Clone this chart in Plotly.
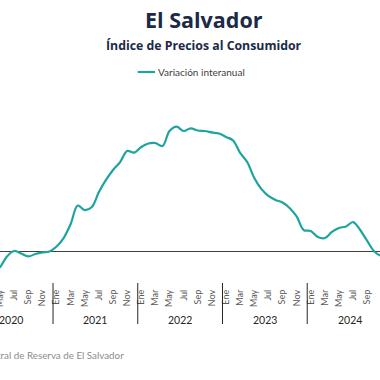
import plotly.graph_objects as go

# ---------------- data ----------------
month_names = ["Ene", "Feb", "Mar", "Abr", "May", "Jun", "Jul", "Ago", "Sep", "Oct", "Nov", "Dic"]
start_year = 2020
start_month = 4  # April 2020
variacion_interanual = [
    -1.30, -1.00, -0.33, 0.00, -0.16, -0.34, -0.19, -0.09, -0.03,           # 2020 Apr-Dec
    0.28, 0.81, 1.69, 2.84, 2.56, 2.75, 3.69, 4.44, 5.06, 5.56, 6.25, 6.15,  # 2021
    6.50, 6.72, 6.75, 6.56, 7.50, 7.77, 7.50, 7.67, 7.53, 7.50, 7.41, 7.34,  # 2022
    7.13, 6.91, 6.13, 5.56, 4.56, 3.88, 3.44, 3.19, 3.03, 2.69, 2.16, 1.31,  # 2023
    1.25, 0.88, 0.81, 1.19, 1.44, 1.53, 1.81, 1.31, 0.63, -0.03, -0.31, -0.40,  # 2024
]
years = [2020, 2021, 2022, 2023, 2024]
title = "El Salvador"
subtitle = "Índice de Precios al Consumidor"
series_name = "Variación interanual"
source = "Fuente: Banco Central de Reserva de El Salvador"

# month index (Jan 2020 = 0)
x_idx = [(start_month - 1) + i for i in range(len(variacion_interanual))]
tickvals = [m for m in x_idx if (m % 12) % 2 == 0]
ticktext = [month_names[m % 12] for m in tickvals]

W, H = 380, 380
PLOT_TOP, PLOT_BOT = 95, 283
FONT = "Century Gothic, Lato, sans-serif"
TFONT = "Century Gothic, Open Sans, sans-serif"
TEAL = "#1fa39e"


def py(p):  # pixel y -> paper y
    return (PLOT_BOT - p) / (PLOT_BOT - PLOT_TOP)


fig = go.Figure()
fig.add_trace(go.Scatter(
    x=x_idx, y=variacion_interanual, mode="lines", name=series_name,
    line=dict(color=TEAL, width=2.2, shape="spline", smoothing=1),
    showlegend=False, hoverinfo="skip",
))

shapes = []
annotations = []
for y in years:
    base = (y - 2020) * 12
    annotations.append(dict(x=base + 5.5, y=py(320), xref="x", yref="paper",
                            xanchor="center", yanchor="middle",
                            text=str(y), showarrow=False,
                            font=dict(family=FONT, size=10.5, color="#262626")))
    shapes.append(dict(type="line", xref="x", yref="paper", x0=base - 0.5, x1=base - 0.5,
                       y0=0, y1=py(324), line=dict(color="#262626", width=1)))
shapes.append(dict(type="line", xref="x", yref="paper", x0=59.5, x1=59.5,
                   y0=0, y1=py(324), line=dict(color="#262626", width=1)))

# legend
shapes.append(dict(type="line", xref="paper", yref="paper", x0=137.7 / W, x1=155 / W,
                   y0=py(72), y1=py(72), line=dict(color=TEAL, width=2.2)))
annotations.append(dict(x=156 / W, y=py(72), xref="paper", yref="paper",
                        xanchor="left", yanchor="middle",
                        text=series_name, showarrow=False,
                        font=dict(family=FONT, size=10, color="#404040")))
# titles
annotations.append(dict(x=204.5 / W, y=py(20), xref="paper", yref="paper",
                        xanchor="center", yanchor="middle",
                        text="<b>" + title + "</b>", showarrow=False,
                        font=dict(family=TFONT, size=21.5, color="#1b2a47")))
annotations.append(dict(x=204.5 / W, y=py(45), xref="paper", yref="paper",
                        xanchor="center", yanchor="middle",
                        text="<b>" + subtitle + "</b>", showarrow=False,
                        font=dict(family=TFONT, size=12.3, color="#1b2a47")))
# source
annotations.append(dict(x=126 / W, y=py(355), xref="paper", yref="paper",
                        xanchor="right", yanchor="middle",
                        text=source, showarrow=False,
                        font=dict(family=FONT, size=9.8, color="#8c8c8c")))

m_per_px = 7.064
x0 = min(29.5 - 180.03 / m_per_px, 3.99)
x1 = 29.5 + (W - 180.03) / m_per_px

fig.update_layout(
    width=W, height=H,
    margin=dict(l=0, r=0, t=PLOT_TOP, b=H - PLOT_BOT, pad=0),
    paper_bgcolor="white", plot_bgcolor="white",
    shapes=shapes, annotations=annotations,
    xaxis=dict(range=[x0, x1], tickvals=tickvals, ticktext=ticktext, tickangle=-90,
               showgrid=False, zeroline=False, showline=False, ticks="",
               tickfont=dict(family=FONT, size=9, color="#595959"),
               ticklabelstandoff=4, ticklabeloverflow="allow", automargin=False),
    yaxis=dict(range=[(251 - PLOT_BOT) / 16, (251 - PLOT_TOP) / 16],
               showgrid=False, showticklabels=False, ticks="",
               zeroline=True, zerolinecolor="#404040", zerolinewidth=1.2),
)

fig.write_html("out.html", config={"displayModeBar": False},
               post_script="document.body.style.margin='0';document.body.style.padding='0';"
                           "document.documentElement.style.overflow='hidden';")
